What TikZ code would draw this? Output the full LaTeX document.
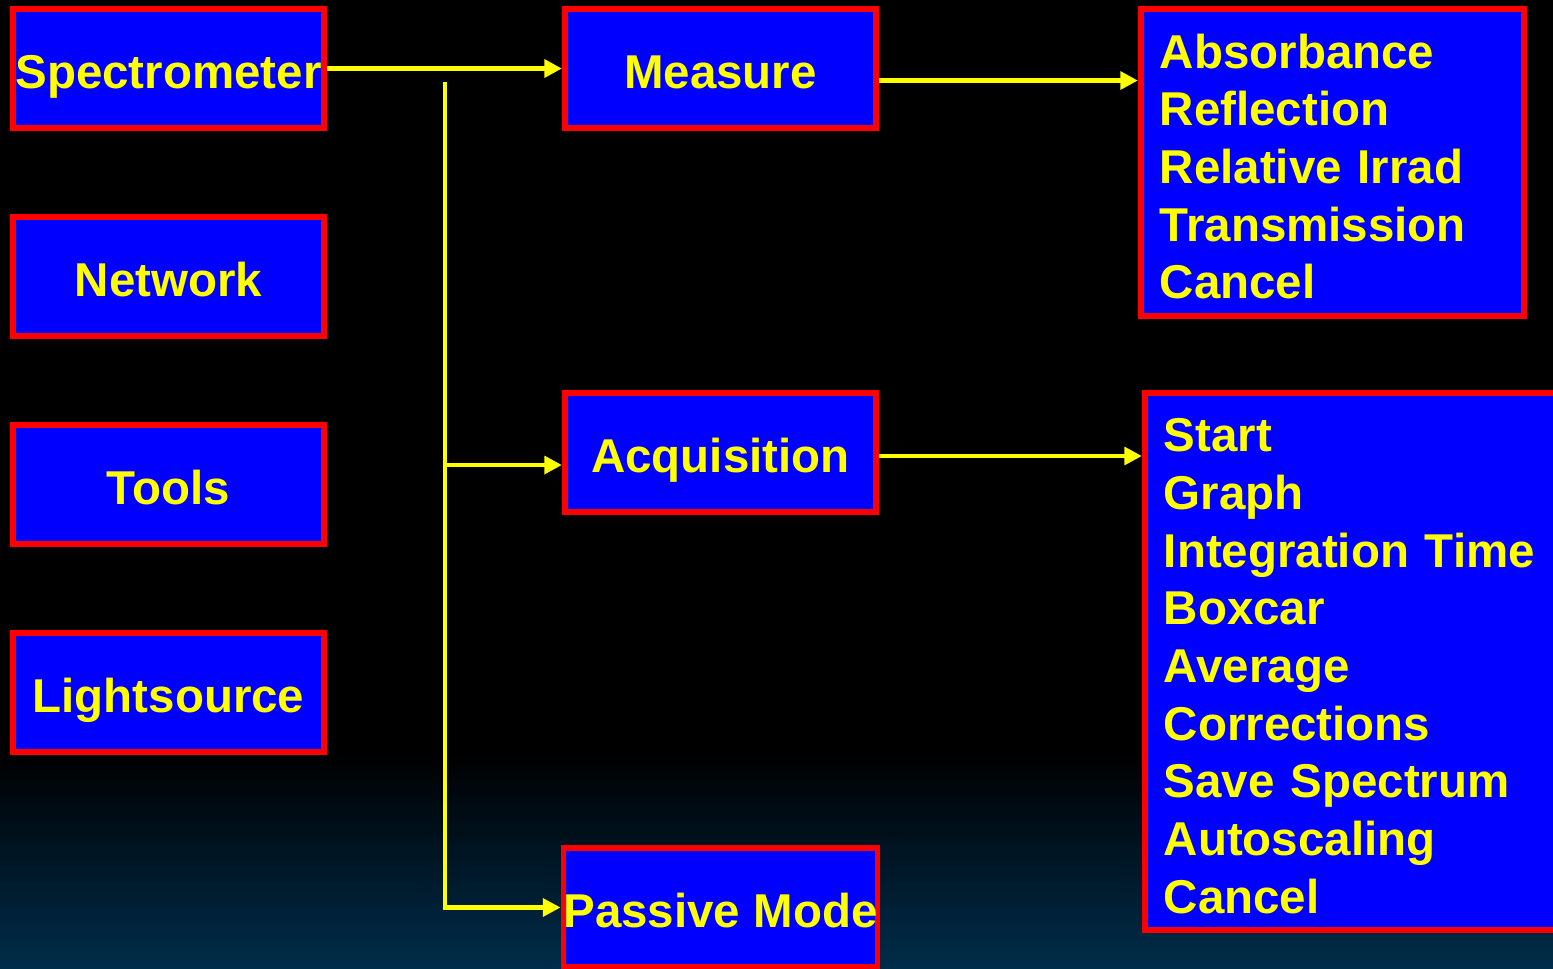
\documentclass[tikz,border=0pt]{standalone}
\usepackage{fontspec}
\setmainfont{Liberation Sans}
\usetikzlibrary{arrows.meta}
\definecolor{menublue}{RGB}{0,0,255}
\definecolor{menured}{RGB}{255,0,0}
\definecolor{menuyellow}{RGB}{255,255,0}
\definecolor{bgbottom}{RGB}{0,45,75}
\newcommand{\liststrut}{\rule{0pt}{12pt}}
\tikzset{
	menubox/.style={draw=menured, fill=menublue, line width=1.7pt, text=menuyellow, font=\fontsize{13.5}{16.4}\selectfont\bfseries, minimum width=3.11cm, minimum height=1.19cm, inner sep=0pt, text height=11.1pt, text depth=0pt},
	listbox/.style={draw=menured, fill=menublue, line width=1.7pt, text=menuyellow, font=\fontsize{13.5}{16.4}\selectfont\bfseries, align=left, inner ysep=0pt, inner xsep=0.19cm},
	arr/.style={menuyellow, line width=1.35pt, -{Triangle[length=5pt,width=5pt]}}
}
\begin{document}
\begin{tikzpicture}[x=0.01cm,y=-0.01cm]
		\useasboundingbox (0,0) rectangle (1553,969);
		\fill[black] (0,0) rectangle (1553,756);
		\shade[top color=black, bottom color=bgbottom] (0,755) rectangle (1553,969);
		
		% left column
		\node[menubox] (spectro) at (168.5,68.5) {Spectrometer};
		\node[menubox] (network) at (168.5,276.5) {Network};
		\node[menubox] (tools) at (168.5,484.5) {Tools};
		\node[menubox] (light) at (168.5,692.5) {Lightsource};
		
		% middle column
		\node[menubox] (measure) at (720.5,68.5) {Measure};
		\node[menubox] (acq) at (720.5,452.5) {Acquisition};
		\node[menubox] (passive) at (720.5,907.5) {Passive Mode};
		
		% right column
		\node[listbox, text width=3.45cm, minimum height=3.07cm] (measlist) at (1332.5,162.5) {\liststrut Absorbance\\Reflection\\Relative Irrad\\Transmission\\Cancel};
		\node[listbox, text width=4.06cm, minimum height=5.37cm] (acqlist) at (1367,661.5) {\liststrut Start\\Graph\\Integration Time\\Boxcar\\Average\\Corrections\\Save Spectrum\\Autoscaling\\Cancel};
		
		\coordinate (trunk) at (445,82);
		\coordinate (acqin) at ([yshift=-0.125cm]acq.west);
		\coordinate (acqout) at ([yshift=-0.035cm]acq.east);
		\draw[arr] (spectro.east) -- (measure.west);
		\draw[arr] (trunk) |- (passive.west);
		\draw[arr] (trunk |- acqin) -- (acqin);
		\draw[arr] ([yshift=-0.12cm]measure.east) -- ([yshift=-0.12cm]measure.east -| measlist.west);
		\draw[arr] (acqout) -- (acqout -| acqlist.west);
\end{tikzpicture}
\end{document}
